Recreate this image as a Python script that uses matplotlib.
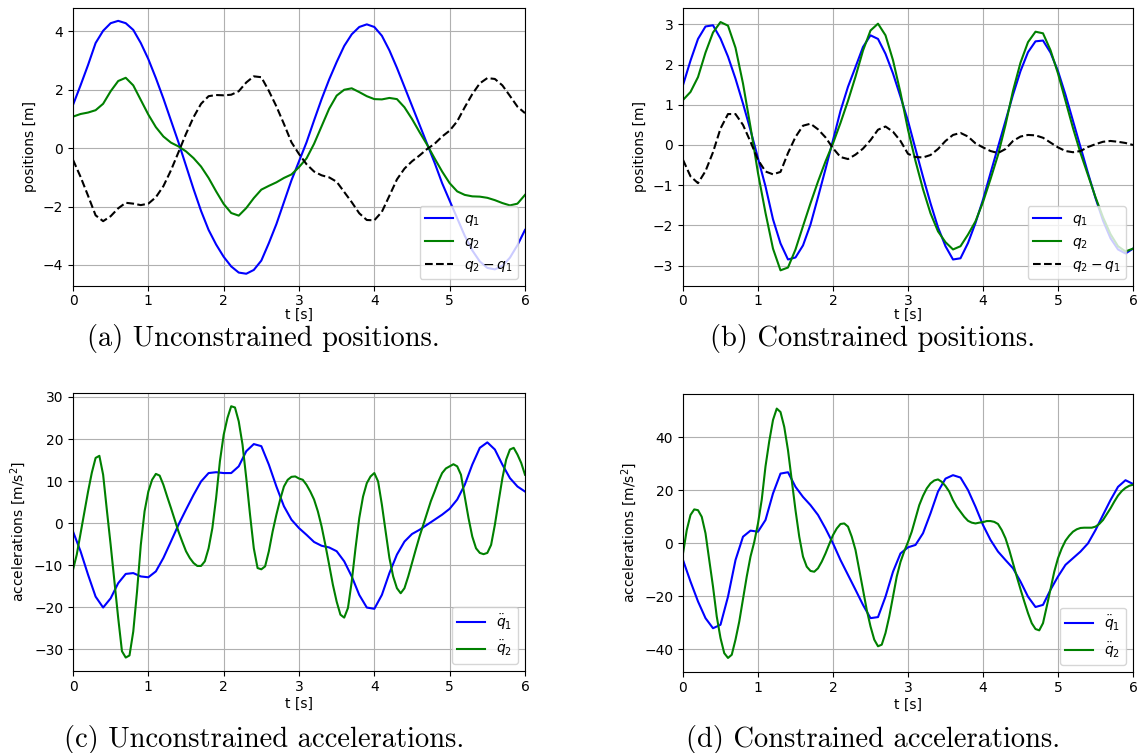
import numpy as np
import matplotlib
matplotlib.use("Agg")
import matplotlib.pyplot as plt

# time axes: positions sampled every 0.1 s, green accelerations every 0.05 s
t_pos = np.linspace(0, 6, 61)
t_acc = np.linspace(0, 6, 61)
t_acc_fine = np.linspace(0, 6, 121)

# (a) unconstrained positions
q1_free = [1.48, 2.15, 2.85, 3.6, 4.02, 4.28, 4.36, 4.28, 4.05, 3.6,
           3.05, 2.4, 1.7, 0.95, 0.2, -0.6, -1.4, -2.15, -2.8, -3.3,
           -3.72, -4.05, -4.26, -4.3, -4.17, -3.85, -3.25, -2.6, -1.85, -1.1,
           -0.45, 0.2, 0.95, 1.68, 2.35, 2.95, 3.5, 3.9, 4.15, 4.24,
           4.15, 3.85, 3.35, 2.75, 2.1, 1.45, 0.8, 0.15, -0.5, -1.2,
           -1.8, -2.4, -3.0, -3.5, -3.88, -4.1, -4.15, -4.03, -3.75, -3.32,
           -2.8]
q2_free = [1.08, 1.17, 1.22, 1.3, 1.52, 1.95, 2.3, 2.41, 2.15, 1.65,
           1.15, 0.72, 0.4, 0.19, 0.06, -0.11, -0.34, -0.63, -1.02, -1.48,
           -1.91, -2.22, -2.31, -2.05, -1.71, -1.42, -1.29, -1.17, -1.02, -0.9,
           -0.65, -0.35, 0.15, 0.75, 1.35, 1.8, 2.0, 2.05, 1.92, 1.78,
           1.68, 1.67, 1.72, 1.68, 1.4, 1.0, 0.55, 0.12, -0.35, -0.8,
           -1.2, -1.48, -1.6, -1.65, -1.66, -1.7, -1.78, -1.88, -1.96, -1.9,
           -1.6]

# (b) constrained positions
q1_con = [1.49, 2.1, 2.64, 2.95, 2.98, 2.65, 2.2, 1.65, 1.03, 0.37,
          -0.33, -1.03, -1.85, -2.45, -2.85, -2.8, -2.5, -1.98, -1.3, -0.6,
          0.12, 0.85, 1.45, 1.94, 2.44, 2.73, 2.64, 2.27, 1.78, 1.2,
          0.6, -0.1, -0.79, -1.45, -2.05, -2.52, -2.85, -2.82, -2.44, -1.94,
          -1.36, -0.7, -0.05, 0.6, 1.25, 1.84, 2.31, 2.58, 2.6, 2.3,
          1.84, 1.25, 0.6, -0.05, -0.7, -1.32, -1.88, -2.32, -2.6, -2.7,
          -2.58]
q2_con = [1.12, 1.32, 1.69, 2.3, 2.8, 3.06, 2.97, 2.42, 1.53, 0.45,
          -0.7, -1.69, -2.58, -3.12, -3.05, -2.6, -2.02, -1.45, -0.91, -0.41,
          0.04, 0.55, 1.1, 1.7, 2.35, 2.85, 3.02, 2.73, 2.11, 1.3,
          0.38, -0.4, -1.1, -1.7, -2.15, -2.42, -2.6, -2.52, -2.23, -1.9,
          -1.42, -0.85, -0.25, 0.5, 1.35, 2.05, 2.56, 2.82, 2.78, 2.36,
          1.78, 1.1, 0.42, -0.2, -0.75, -1.3, -1.8, -2.22, -2.52, -2.65,
          -2.58]

# (c) unconstrained accelerations
ddq1_free = [-2.0, -6.7, -12.3, -17.5, -20.1, -17.9, -14.3, -12.1, -11.9, -12.7,
             -12.9, -11.5, -8.3, -4.4, -0.4, 3.2, 6.7, 9.9, 11.9, 12.1,
             11.9, 11.9, 13.5, 17.1, 18.8, 18.3, 13.9, 8.7, 4.0, 0.8,
             -1.2, -2.8, -4.5, -5.4, -5.8, -6.7, -9.1, -12.7, -17.1, -20.1,
             -20.4, -17.1, -11.9, -7.5, -4.4, -2.6, -1.6, -0.4, 0.8, 2.0,
             3.4, 5.6, 9.1, 13.9, 17.9, 19.2, 17.5, 13.9, 10.7, 8.7,
             7.5]
ddq2_free = [-11.1, -7.5, -2.5, 2.5, 7.5, 12.0, 15.5, 16.0, 11.5, 3.0,
             -5.2, -13.9, -22.6, -30.5, -32.0, -31.5, -25.8, -16.3, -5.2, 2.8,
             7.5, 10.3, 11.7, 11.3, 9.1, 6.3, 3.6, 0.8, -2.0, -4.4,
             -6.7, -8.3, -9.5, -10.2, -10.2, -9.1, -6.0, -1.2, 6.0, 14.7,
             21.0, 25.0, 27.8, 27.5, 24.2, 18.7, 10.7, 2.0, -6.0, -10.7,
             -11.0, -10.3, -6.7, -2.0, 2.0, 5.6, 8.7, 10.3, 11.0, 11.1,
             10.6, 10.3, 9.1, 7.5, 5.6, 2.8, -0.8, -5.2, -9.9, -14.7,
             -18.7, -21.8, -22.5, -20.2, -13.9, -6.0, 1.2, 6.3, 9.5, 11.1,
             11.9, 9.9, 4.4, -2.0, -8.3, -12.7, -15.5, -16.7, -15.5, -12.7,
             -9.5, -6.3, -3.2, -0.4, 2.4, 5.2, 7.5, 9.9, 11.9, 13.0,
             13.5, 14.0, 13.5, 11.5, 6.3, 1.2, -3.2, -6.0, -7.1, -7.4,
             -7.1, -5.2, -0.4, 5.2, 10.7, 15.1, 17.5, 17.9, 16.3, 14.3,
             11.5]

# (d) constrained accelerations
ddq1_con = [-6.3, -14.4, -21.9, -28.2, -32.0, -30.7, -20.1, -6.3, 2.5, 4.8,
            4.4, 8.8, 18.8, 26.3, 26.8, 21.3, 17.5, 14.4, 10.7, 5.6,
            0.0, -6.3, -11.9, -17.5, -23.2, -28.2, -27.8, -20.1, -10.7, -3.8,
            -1.5, -0.6, 3.8, 11.3, 19.5, 24.4, 25.7, 24.8, 20.1, 13.8,
            6.9, 1.3, -3.1, -6.3, -9.4, -14.4, -20.1, -24.0, -23.2, -17.5,
            -12.5, -8.1, -5.6, -3.1, 0.0, 5.0, 10.7, 16.3, 21.3, 23.8,
            22.4]
ddq2_con = [-3.8, 5.0, 10.7, 12.8, 12.5, 10.0, 3.8, -6.3, -16.3, -27.6,
            -35.7, -41.4, -43.2, -42.0, -36.3, -29.5, -21.0, -12.5, -5.0, 0.5,
            7.5, 16.5, 29.0, 38.5, 46.5, 50.8, 49.5, 43.9, 35.1, 23.8,
            12.5, 2.5, -5.0, -8.8, -10.4, -10.7, -9.4, -6.9, -3.8, -0.3,
            3.1, 5.6, 7.3, 7.5, 6.3, 2.5, -2.5, -10.0, -17.5, -25.1,
            -31.3, -36.3, -38.8, -38.2, -33.8, -27.6, -20.1, -12.5, -7.0, -3.0,
            0.5, 4.4, 9.4, 14.4, 17.9, 20.7, 22.6, 23.7, 24.1, 23.2,
            21.6, 19.5, 16.3, 13.8, 11.9, 10.0, 8.5, 7.8, 7.5, 7.8,
            8.0, 8.4, 8.4, 8.1, 7.3, 5.0, 1.9, -2.5, -7.5, -12.5,
            -17.3, -21.9, -26.3, -30.1, -32.3, -32.8, -30.1, -23.8, -17.3, -10.7,
            -5.6, -1.9, 1.0, 2.9, 4.4, 5.3, 5.8, 5.9, 5.9, 5.9,
            6.3, 7.3, 8.8, 11.0, 13.2, 15.7, 18.0, 19.7, 20.9, 21.7,
            22.1]

captions = ['(a) Unconstrained positions.', '(b) Constrained positions.',
            '(c) Unconstrained accelerations.', '(d) Constrained accelerations.']

W, H = 1142, 753


def px_axes(fig, left, top, right, bottom):
    '''Adds an axes given its box in pixels (origin top-left)'''
    return fig.add_axes([left / W, 1 - bottom / H, (right - left) / W, (bottom - top) / H])


def plot_positions(ax, q1, q2, ylim):
    q1 = np.array(q1)
    q2 = np.array(q2)
    ax.plot(t_pos, q1, color='blue', label=r'$q_1$')
    ax.plot(t_pos, q2, color='green', label=r'$q_2$')
    ax.plot(t_pos, q2 - q1, color='black', ls='--', label=r'$q_2 - q_1$')
    ax.set_xlim(0, 6)
    ax.set_ylim(*ylim)
    ax.set_xlabel('t [s]', labelpad=0)
    ax.set_ylabel('positions [m]')
    ax.tick_params(axis='x', pad=2.5)
    ax.grid(True)
    ax.legend(loc='lower right')


def plot_accelerations(ax, ddq1, ddq2, ylim):
    ax.plot(t_acc, ddq1, color='blue', label=r'$\ddot{q}_1$')
    ax.plot(t_acc_fine, ddq2, color='green', label=r'$\ddot{q}_2$')
    ax.set_xlim(0, 6)
    ax.set_ylim(*ylim)
    ax.set_xlabel('t [s]', labelpad=2)
    ax.set_ylabel(r'accelerations [m/s$^2$]')
    ax.tick_params(axis='x', pad=3)
    ax.grid(True)
    ax.legend(loc='lower right')


fig = plt.figure(figsize=(W / 100, H / 100), dpi=100)

ax_a = px_axes(fig, 73, 8, 525, 286)
ax_b = px_axes(fig, 683, 8, 1133, 286)
ax_c = px_axes(fig, 73, 393, 525, 671)
ax_d = px_axes(fig, 683, 394, 1133, 672)

plot_positions(ax_a, q1_free, q2_free, (-4.72, 4.8))
plot_positions(ax_b, q1_con, q2_con, (-3.51, 3.41))
plot_accelerations(ax_c, ddq1_free, ddq2_free, (-35.2, 30.95))
plot_accelerations(ax_d, ddq1_con, ddq2_con, (-48.5, 56.3))

cap_y = [338, 338, 740, 740]
cap_x = [263, 873, 264, 873]
for cx, cy, txt in zip(cap_x, cap_y, captions):
    fig.text(cx / W, 1 - cy / H, txt, family='cmr10', fontsize=20.5,
             ha='center', va='center')

fig.savefig('out.png', dpi=100)
